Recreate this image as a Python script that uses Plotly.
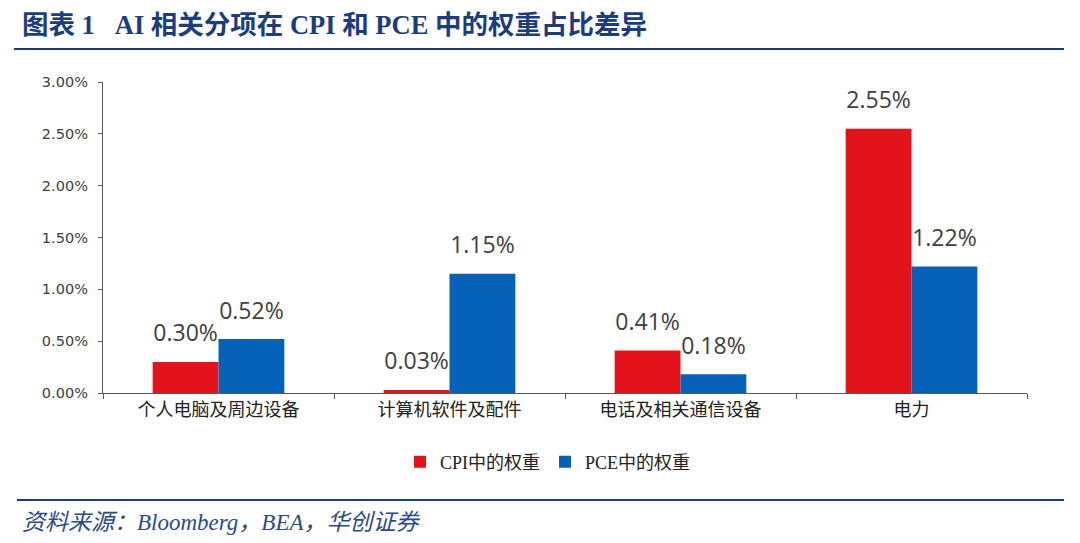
import plotly.graph_objects as go

# 数据
categories = ['个人电脑及周边设备', '计算机软件及配件', '电话及相关通信设备', '电力']
cpi_weight = [0.30, 0.03, 0.41, 2.55]
pce_weight = [0.52, 1.15, 0.18, 1.22]
y_ticks = [0, 0.5, 1.0, 1.5, 2.0, 2.5, 3.0]
y_tick_text = ['0.00%', '0.50%', '1.00%', '1.50%', '2.00%', '2.50%', '3.00%']

RED = '#E3131C'
BLUE = '#0562B8'
NAVY = '#1B3D7E'

# 页面有 8px 边距，所有坐标按截图像素给出后再换算
OFF = 8
W, H = 1080 - 2 * OFF, 543 - 2 * OFF
L, R, T, B = 103 - OFF, 1027 - OFF, 82 - OFF, 393 - OFF


def px(x):
    return (x - OFF - L) / (R - L)


def py(y):
    return (B - (y - OFF)) / (B - T)


fig = go.Figure()
for name, vals, col, grp in [('CPI中的权重', cpi_weight, RED, 'a'),
                             ('PCE中的权重', pce_weight, BLUE, 'b')]:
    fig.add_trace(go.Bar(
        x=categories, y=vals, name=name, offsetgroup=grp,
        marker=dict(color=col, line=dict(width=0))))
    # 数值标签：透明点撑开间距，文字与柱子同组对齐
    fig.add_trace(go.Scatter(
        x=categories, y=vals, mode='markers+text', offsetgroup=grp, showlegend=False,
        marker=dict(size=22, color='rgba(0,0,0,0)'),
        text=[f'{v:.2f}%' for v in vals], textposition='top center',
        textfont=dict(size=23, color='#404040', family='Open Sans'),
        cliponaxis=False, hoverinfo='skip'))

fig.update_layout(
    width=W, height=H,
    margin=dict(l=L, r=W - R, t=T, b=H - B),
    paper_bgcolor='white', plot_bgcolor='white',
    barmode='group', bargap=0.43, bargroupgap=0,
    scattermode='group', scattergap=0.43,
    showlegend=True,
    legend=dict(orientation='h', x=px(548), y=py(462), xanchor='center', yanchor='middle',
                font=dict(family='Liberation Serif, Noto Sans CJK SC', size=18, color='#222222'),
                itemwidth=30, tracegroupgap=0),
    xaxis=dict(
        showline=True, linecolor='#595959', linewidth=1.3,
        ticks='outside', tickson='boundaries', ticklen=5, tickcolor='#595959',
        tickfont=dict(family='Noto Sans CJK SC', size=18, color='#222222'),
        showgrid=False),
    yaxis=dict(
        range=[0, 3.0], tickvals=y_ticks, ticktext=y_tick_text,
        showline=True, linecolor='#595959', linewidth=1.3,
        ticks='outside', ticklen=4, tickcolor='#595959', ticklabelstandoff=7,
        tickfont=dict(family='DejaVu Sans', size=14.5, color='#404040'),
        showgrid=False, zeroline=False),
    annotations=[
        dict(text='<b>图表 1   AI 相关分项在 CPI 和 PCE 中的权重占比差异</b>',
             xref='paper', yref='paper', x=px(20), y=py(8),
             xanchor='left', yanchor='top', showarrow=False,
             font=dict(family='Liberation Serif, Noto Sans CJK SC', size=26.5, color=NAVY)),
        dict(text='<i>资料来源：Bloomberg，BEA，华创证券</i>',
             xref='paper', yref='paper', x=px(20), y=py(522),
             xanchor='left', yanchor='middle', showarrow=False,
             font=dict(family='Liberation Serif, Noto Sans CJK SC', size=23, color='#2A4A8A')),
    ],
    shapes=[
        dict(type='line', xref='paper', yref='paper', x0=px(14), x1=px(1064), y0=py(49), y1=py(49),
             line=dict(color=NAVY, width=2)),
        dict(type='line', xref='paper', yref='paper', x0=px(17), x1=px(1064), y0=py(500), y1=py(500),
             line=dict(color=NAVY, width=2)),
    ],
)

fig.write_html('out.html')
